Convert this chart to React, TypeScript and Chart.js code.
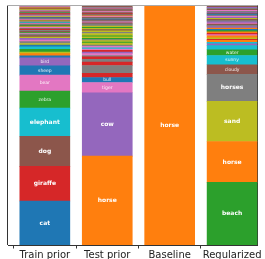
import React, { useEffect, useRef } from "react";
import { Chart, registerables } from "chart.js";
Chart.register(...registerables);

const B = "#1f77b4", O = "#ff7f0e", G = "#2ca02c", R = "#d62728", P = "#9467bd";
const N = "#8c564b", K = "#e377c2", Y = "#7f7f7f", L = "#bcbd22", C = "#17becf";

const categories = ["Train prior", "Test prior", "Baseline", "Regularized"];

// values listed from bottom to top of each bar
const trainValues = [0.184, 0.145, 0.126, 0.118, 0.071, 0.067, 0.039, 0.033,
  0.008, 0.010, 0.006, 0.012, 0.010, 0.008, 0.006, 0.008, 0.006, 0.008, 0.005, 0.006, 0.005, 0.004, 0.004, 0.005, 0.004,
  0.003, 0.003, 0.003, 0.004, 0.003, 0.003, 0.003, 0.003, 0.003, 0.003, 0.003, 0.003, 0.003, 0.003, 0.003, 0.003, 0.003,
  0.003, 0.003, 0.003, 0.003, 0.003, 0.003, 0.003, 0.003, 0.003, 0.003, 0.003, 0.003, 0.003, 0.003, 0.003, 0.003, 0.005];
const trainColors = [B, R, N, C, G, K, B, P,
  B, O, L, G, C, B, L, Y, K, P, L, N, Y, K, G, N, Y,
  R, N, Y, K, L, N, G, Y, K, N, C, Y, L, N, K, Y, B,
  N, L, Y, K, N, R, Y, G, N, K, Y, L, N, O, Y, K, N];
const trainLabels = ["cat", "giraffe", "dog", "elephant", "zebra", "bear", "sheep", "bird"];

const testValues = [0.372, 0.265, 0.043, 0.021, 0.017, 0.033, 0.014,
  0.012, 0.010, 0.006, 0.008, 0.006, 0.008, 0.005, 0.005, 0.006, 0.006, 0.008, 0.004, 0.006, 0.005, 0.005, 0.006, 0.004,
  0.005, 0.005, 0.005, 0.006, 0.005, 0.006, 0.004, 0.005, 0.005, 0.004, 0.005, 0.004, 0.004, 0.004, 0.003, 0.004, 0.004,
  0.003, 0.003, 0.004, 0.004, 0.003, 0.004, 0.003, 0.004, 0.003, 0.004, 0.003, 0.003, 0.006];
const testColors = [O, P, K, B, R, Y, R,
  Y, R, Y, K, P, R, K, C, K, Y, L, G, L, Y, G, L, G,
  L, L, Y, L, N, L, G, L, Y, Y, N, K, Y, N, B, Y, N,
  K, O, Y, N, R, Y, K, N, Y, N, K, Y, N];
const testLabels = ["horse", "cow", "tiger", "bull"];

const baselineValues = [1.0];
const baselineColors = [O];
const baselineLabels = ["horse"];

const regValues = [0.262, 0.171, 0.168, 0.113, 0.040, 0.039, 0.024, 0.017,
  0.008, 0.006, 0.008, 0.005, 0.006, 0.008, 0.005, 0.006, 0.006, 0.005, 0.005, 0.006, 0.006, 0.005, 0.005, 0.005,
  0.005, 0.005, 0.005, 0.004, 0.005, 0.004, 0.005, 0.004, 0.004, 0.004, 0.004, 0.004, 0.004, 0.004, 0.004, 0.006];
const regColors = [G, O, L, Y, N, C, G, C,
  P, C, O, R, L, O, K, R, O, G, B, O, P, Y, N, K,
  P, Y, N, L, P, K, Y, B, N, P, Y, K, N, Y, P, N];
const regLabels = ["beach", "horse", "sand", "horses", "cloudy", "sunny", "water"];

const bars = [
  { values: trainValues, colors: trainColors, labels: trainLabels },
  { values: testValues, colors: testColors, labels: testLabels },
  { values: baselineValues, colors: baselineColors, labels: baselineLabels },
  { values: regValues, colors: regColors, labels: regLabels },
];

const FONT = '"DejaVu Sans", sans-serif';

const segLabelPlugin = {
  id: "segLabels",
  afterDatasetsDraw(chart: any) {
    const ctx = chart.ctx;
    chart.data.datasets.forEach((ds: any, i: number) => {
      const lab = ds.segLabel;
      if (!lab) return;
      const el = chart.getDatasetMeta(i).data[0];
      if (!el) return;
      const { x, y, base } = el.getProps(["x", "y", "base"], true);
      const big = ds.data[0].y >= 0.1;
      ctx.save();
      ctx.fillStyle = big ? "#ffffff" : "rgba(255,255,255,0.9)";
      ctx.font = `${big ? "bold 6px" : "4.5px"} ${FONT}`;
      ctx.textAlign = "center";
      ctx.textBaseline = "middle";
      ctx.fillText(lab, x, (y + base) / 2);
      ctx.restore();
    });
  },
};

const framePlugin = {
  id: "frame",
  beforeDatasetsDraw(chart: any) {
    const { ctx, chartArea } = chart;
    ctx.save();
    ctx.strokeStyle = "#333";
    ctx.lineWidth = 1;
    ctx.beginPath();
    ctx.moveTo(Math.round(chartArea.right) - 0.5, chartArea.top - 1);
    ctx.lineTo(Math.round(chartArea.right) - 0.5, chartArea.bottom);
    ctx.stroke();
    ctx.restore();
  },
  afterDatasetsDraw(chart: any) {
    const { ctx, chartArea } = chart;
    ctx.save();
    ctx.lineWidth = 1;
    ctx.strokeStyle = "#333";
    ctx.beginPath();
    ctx.moveTo(chartArea.left - 0.5, chartArea.top - 1);
    ctx.lineTo(chartArea.left - 0.5, chartArea.bottom);
    ctx.stroke();
    ctx.strokeStyle = "#aaa";
    ctx.beginPath();
    ctx.moveTo(chartArea.left - 1, chartArea.top - 0.5);
    ctx.lineTo(chartArea.right, chartArea.top - 0.5);
    ctx.stroke();
    ctx.restore();
  },
};

export default function App() {
  const ref = useRef<HTMLCanvasElement>(null);
  useEffect(() => {
    if (!ref.current) return;
    const datasets: any[] = [];
    bars.forEach((b, i) =>
      b.values.forEach((v, j) =>
        datasets.push({
          data: [{ x: i, y: v }],
          backgroundColor: b.colors[j],
          segLabel: b.labels[j] || "",
          borderWidth: 0,
          barThickness: 50,
        })
      )
    );
    const chart = new Chart(ref.current, {
      type: "bar",
      data: { datasets },
      options: {
        animation: false,
        responsive: false,
        devicePixelRatio: 1,
        layout: { padding: { left: 8, right: 7.3, top: 6, bottom: 0 } },
        plugins: { legend: { display: false }, tooltip: { enabled: false } },
        scales: {
          x: {
            type: "linear",
            min: -0.59,
            max: 3.41,
            stacked: true,
            offset: false,
            afterBuildTicks: (s: any) => {
              s.ticks = categories.map((_, i) => ({ value: i }));
            },
            afterFit: (s: any) => {
              s.height = 14;
            },
            ticks: {
              callback: (v: any) => categories[v] ?? "",
              font: { family: FONT, size: 10 },
              color: "#222",
              padding: 1,
              maxRotation: 0,
              autoSkip: false,
            },
            grid: { display: true, drawOnChartArea: false, drawTicks: true, tickLength: 3.5, color: "#333" },
            border: { display: true, color: "#333" },
          },
          y: { display: false, min: 0, max: 1, stacked: true },
        },
      } as any,
      plugins: [segLabelPlugin, framePlugin],
    });
    return () => chart.destroy();
  }, []);
  return (
    <div style={{ position: "absolute", left: 0, top: 0, width: 265, height: 259, background: "#fff" }}>
      <canvas ref={ref} width={265} height={259} style={{ display: "block" }} />
    </div>
  );
}
